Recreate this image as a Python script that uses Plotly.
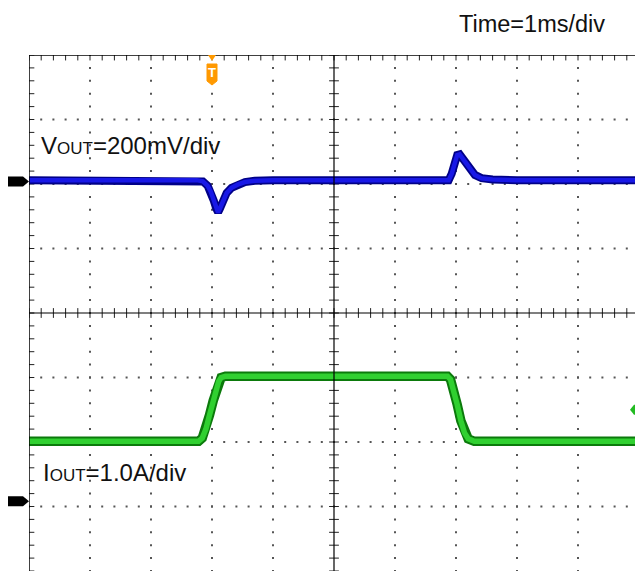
import plotly.graph_objects as go

# ---------------- data (read from the scope capture; units: divisions) -------------
# time axis: 1 ms/div, trigger at -2 ms
vout_t_ms = [-5.0, -2.25, -2.15, -2.07, -2.02, -1.97, -1.93, -1.90, -1.87, -1.83,
             -1.76, -1.68, -1.58, -1.46, -1.3, -1.0, 0.0, 1.0, 1.88, 1.93, 1.98,
             2.02, 2.06, 2.10, 2.16, 2.23, 2.31, 2.42, 2.6, 3.0, 4.94]
vout_div = [2.06, 2.06, 2.04, 1.97, 1.88, 1.74, 1.62, 1.56, 1.62, 1.72,
            1.86, 1.94, 1.99, 2.03, 2.05, 2.06, 2.06, 2.06, 2.06, 2.16, 2.34,
            2.45, 2.46, 2.41, 2.32, 2.22, 2.14, 2.09, 2.07, 2.06, 2.06]

iout_t_ms = [-5.0, -2.22, -2.16, -2.1, -2.04, -1.98, -1.93, -1.89, -1.85, -1.78,
             0.0, 1.86, 1.91, 1.96, 2.02, 2.08, 2.14, 2.2, 2.3, 4.94]
iout_div = [-1.99, -1.99, -1.94, -1.80, -1.58, -1.36, -1.18, -1.06, -1.0, -0.98,
            -0.98, -0.98, -1.03, -1.18, -1.42, -1.67, -1.86, -1.95, -1.99, -1.99]

vout_ground_div = 2.04
iout_ground_div = -2.92
trigger_time_ms = -2.0
trigger_level_div = -1.5

label_time = "Time=1ms/div"
label_vout = "V<span style='font-size:17px'>OUT</span>=200mV/div"
label_iout = "I<span style='font-size:17px'>OUT</span>=1.0A/div"

# ---------------- layout geometry ----------------
W, H = 635, 571
ML, MT = 29, 55
PW, PH = W - ML, H - MT
XDIV = 61.0
X0 = -5.0
X1 = X0 + PW / XDIV
Y0, Y1 = -4.0, 4.0


def px_x(p):
    return (p - ML) / PW


def px_y(p):
    return (H - p) / PH


fig = go.Figure()

# grid dots
gx, gy = [], []
for iy in range(-3, 4):
    if iy == 0:
        continue
    k = 0
    while X0 + 0.2 * k <= X1:
        gx.append(X0 + 0.2 * k)
        gy.append(iy)
        k += 1
for ix in range(-4, 5):
    if ix == 0:
        continue
    for k in range(0, 41):
        gx.append(ix)
        gy.append(Y0 + 0.2 * k)
fig.add_trace(go.Scatter(x=gx, y=gy, mode="markers",
                         marker=dict(symbol="square", size=2, color="#555555", line=dict(width=0)),
                         hoverinfo="skip", showlegend=False))

# tick marks on centre lines and borders
TK = "#222222"
tx, ty = [], []
k = 0
while X0 + 0.2 * k <= X1:
    tx.append(X0 + 0.2 * k)
    ty.append(0)
    k += 1
fig.add_trace(go.Scatter(x=tx, y=ty, mode="markers",
                         marker=dict(symbol="line-ns-open", size=7, color=TK, line=dict(width=1, color=TK)),
                         hoverinfo="skip", showlegend=False))
fig.add_trace(go.Scatter(x=tx, y=[Y1 - 0.03] * len(tx), mode="markers",
                         marker=dict(symbol="line-ns-open", size=5, color=TK, line=dict(width=1, color=TK)),
                         hoverinfo="skip", showlegend=False))
vy = [Y0 + 0.2 * k for k in range(41)]
fig.add_trace(go.Scatter(x=[0] * len(vy), y=vy, mode="markers",
                         marker=dict(symbol="line-ew-open", size=7, color=TK, line=dict(width=1, color=TK)),
                         hoverinfo="skip", showlegend=False))
fig.add_trace(go.Scatter(x=[X0 + 0.03] * len(vy), y=vy, mode="markers",
                         marker=dict(symbol="line-ew-open", size=5, color=TK, line=dict(width=1, color=TK)),
                         hoverinfo="skip", showlegend=False))

# traces: VOUT (blue)
fig.add_trace(go.Scatter(x=vout_t_ms, y=vout_div, mode="lines",
                         line=dict(color="#000088", width=8), hoverinfo="skip", showlegend=False))
fig.add_trace(go.Scatter(x=vout_t_ms, y=vout_div, mode="lines",
                         line=dict(color="#1818e6", width=4.5), hoverinfo="skip", showlegend=False))
# IOUT (green)
fig.add_trace(go.Scatter(x=iout_t_ms, y=iout_div, mode="lines",
                         line=dict(color="#0b7a0b", width=9.5), hoverinfo="skip", showlegend=False))
fig.add_trace(go.Scatter(x=iout_t_ms, y=iout_div, mode="lines",
                         line=dict(color="#30d030", width=5.5), hoverinfo="skip", showlegend=False))

shapes = []
# borders and centre cross
shapes.append(dict(type="line", xref="x", yref="y", x0=X0, x1=X1, y0=Y1, y1=Y1,
                   line=dict(color="black", width=1.5)))
shapes.append(dict(type="line", xref="x", yref="y", x0=X0, x1=X0, y0=Y0, y1=Y1,
                   line=dict(color="black", width=1.5)))
shapes.append(dict(type="line", xref="x", yref="y", x0=X0, x1=X1, y0=0, y1=0,
                   line=dict(color="black", width=1.2)))
shapes.append(dict(type="line", xref="x", yref="y", x0=0, x1=0, y0=Y0, y1=Y1,
                   line=dict(color="black", width=1.2)))


# ground markers (black arrows at left)
def ground_marker(ydiv):
    h = 5 / (PH / 8)
    a, b, c = px_x(8), px_x(23), px_x(29)
    return dict(type="path", xref="paper", yref="y",
                path=f"M {a},{ydiv + h} L {b},{ydiv + h} L {c},{ydiv} L {b},{ydiv - h} L {a},{ydiv - h} Z",
                fillcolor="black", line=dict(width=0))


shapes.append(ground_marker(vout_ground_div))
shapes.append(ground_marker(iout_ground_div))

# trigger level marker (green, right)
hy = 5 / (PH / 8)
shapes.append(dict(type="path", xref="paper", yref="y",
                   path=(f"M {px_x(630)},{trigger_level_div} L {px_x(634)},{trigger_level_div + hy} "
                         f"L {px_x(636)},{trigger_level_div + hy} L {px_x(636)},{trigger_level_div - hy} "
                         f"L {px_x(634)},{trigger_level_div - hy} Z"),
                   fillcolor="#22bb22", line=dict(width=0)))

# trigger time marker (orange)
dx = 1.0 / XDIV
tt = trigger_time_ms
shapes.append(dict(type="path", xref="x", yref="paper",
                   path=(f"M {tt - 4 * dx},{px_y(55)} L {tt + 4 * dx},{px_y(55)} L {tt},{px_y(61)} Z"),
                   fillcolor="#ff9900", line=dict(width=0)))
shapes.append(dict(type="path", xref="x", yref="paper",
                   path=(f"M {tt - 5 * dx},{px_y(64)} L {tt + 5 * dx},{px_y(64)} L {tt + 5 * dx},{px_y(81)} "
                         f"L {tt},{px_y(85)} L {tt - 5 * dx},{px_y(81)} Z"),
                   fillcolor="#ff9900", line=dict(color="#ff9900", width=1)))

annotations = [
    dict(text=label_time, xref="paper", yref="paper", x=px_x(457), y=px_y(24),
         xanchor="left", yanchor="middle", showarrow=False,
         font=dict(family="Liberation Sans, Arial", size=23.5, color="#111")),
    dict(text=label_vout, xref="paper", yref="paper", x=px_x(39), y=px_y(145),
         xanchor="left", yanchor="middle", showarrow=False,
         font=dict(family="Liberation Sans, Arial", size=24, color="#111")),
    dict(text=label_iout, xref="paper", yref="paper", x=px_x(41), y=px_y(472),
         xanchor="left", yanchor="middle", showarrow=False,
         font=dict(family="Liberation Sans, Arial", size=24, color="#111")),
    dict(text="<b>T</b>", xref="x", yref="paper", x=tt, y=px_y(73),
         xanchor="center", yanchor="middle", showarrow=False,
         font=dict(family="Liberation Sans, Arial", size=13, color="white")),
]

fig.update_layout(
    width=W, height=H,
    margin=dict(l=ML, r=0, t=MT, b=0, pad=0),
    paper_bgcolor="white", plot_bgcolor="white",
    xaxis=dict(range=[X0, X1], visible=False, fixedrange=True),
    yaxis=dict(range=[Y0, Y1], visible=False, fixedrange=True),
    shapes=shapes, annotations=annotations,
    showlegend=False,
)

fig.write_html("out.html", config={"displayModeBar": False},
               post_script="document.body.style.margin='0';document.body.style.padding='0';"
                           "document.body.style.overflow='hidden';")
